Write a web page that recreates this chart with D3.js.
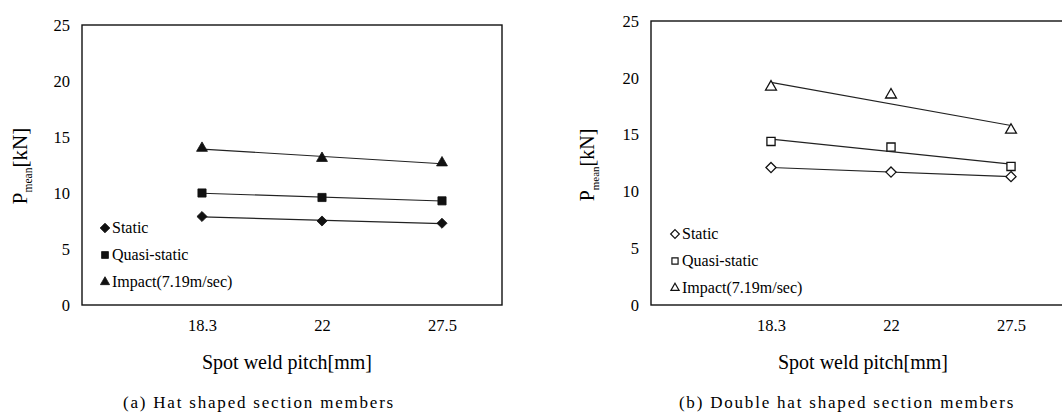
<!DOCTYPE html>
<html>
<head>
<meta charset="utf-8">
<script src="https://cdn.jsdelivr.net/npm/d3@7"></script>
<style>
  body { margin: 0; background: #fff; }
  text { font-family: "Liberation Serif", "DejaVu Serif", serif; fill: #000; }
  .tick line { display: none; }
  .domain { display: none; }
</style>
</head>
<body>
<div id="chart"></div>
<script>
// data
var pitches = ["18.3", "22", "27.5"];
var seriesNames = ["Static", "Quasi-static", "Impact(7.19m/sec)"];

// (a) hat shaped section
var hatStatic = [7.9, 7.5, 7.3];
var hatQuasi = [10.0, 9.6, 9.3];
var hatImpact = [14.0, 13.1, 12.7];

// (b) double hat shaped section
var dblStatic = [12.1, 11.7, 11.3];
var dblQuasi = [14.4, 13.9, 12.2];
var dblImpact = [19.2, 18.5, 15.4];

var yTicks = [0, 5, 10, 15, 20, 25];

var svg = d3.select("#chart").append("svg")
  .attr("width", 1062)
  .attr("height", 413);

// least squares trend line over category index 1..n (like the spreadsheet trendline)
function trend(vals) {
  var xs = vals.map((d, i) => i + 1);
  var mx = d3.mean(xs), my = d3.mean(vals);
  var sxy = d3.sum(xs, (x, i) => (x - mx) * (vals[i] - my));
  var sxx = d3.sum(xs, x => (x - mx) * (x - mx));
  var b = sxy / sxx, a = my - b * mx;
  return [[1, a + b], [xs.length, a + b * xs.length]];
}

function drawPanel(opt) {
  var x = d3.scaleLinear().domain([0, 3.5]).range([opt.left, opt.left + 420]);
  var y = d3.scaleLinear().domain([0, 25]).range([305, opt.top]);

  var g = svg.append("g");

  // frame
  g.append("rect")
    .attr("x", opt.left)
    .attr("y", opt.top)
    .attr("width", 420)
    .attr("height", 305 - opt.top)
    .attr("fill", "none")
    .attr("stroke", "#111")
    .attr("stroke-width", 1.4);

  // axes (labels only)
  g.append("g")
    .attr("transform", `translate(${opt.left - 2},0)`)
    .call(d3.axisLeft(y).tickValues(yTicks).tickSize(0).tickPadding(10))
    .selectAll("text")
    .style("font-size", "16.5px")
    .style("font-family", "Liberation Serif, serif");

  g.append("g")
    .attr("transform", `translate(0,316)`)
    .call(d3.axisBottom(x).tickValues([1, 2, 3]).tickFormat(d => pitches[d - 1]).tickSize(0))
    .selectAll("text")
    .style("font-size", "16.5px")
    .style("font-family", "Liberation Serif, serif");

  var line = d3.line().x(d => x(d[0])).y(d => y(d[1]));
  var sym = [d3.symbolDiamond2, d3.symbolSquare2, d3.symbolTriangle2];
  var sizes = [65, 85, 85];

  opt.series.forEach(function(vals, k) {
    g.append("path")
      .attr("d", line(trend(vals)))
      .attr("fill", "none")
      .attr("stroke", "#222")
      .attr("stroke-width", 1.1);

    g.selectAll(".m" + k)
      .data(vals)
      .enter()
      .append("path")
      .attr("transform", (d, i) => `translate(${x(i + 1)},${y(d)})`)
      .attr("d", d3.symbol().type(sym[k]).size(sizes[k]))
      .attr("fill", opt.filled ? "#111" : "#fff")
      .attr("stroke", "#111")
      .attr("stroke-width", opt.filled ? 0.8 : 1.3);
  });

  // legend
  var leg = g.append("g");
  seriesNames.forEach(function(name, k) {
    var ly = opt.legY + k * 27;
    leg.append("path")
      .attr("transform", `translate(${opt.legX},${ly})`)
      .attr("d", d3.symbol().type(sym[k]).size(opt.filled ? 60 : 48))
      .attr("fill", opt.filled ? "#111" : "#fff")
      .attr("stroke", "#111")
      .attr("stroke-width", opt.filled ? 0.8 : 1.2);
    leg.append("text")
      .attr("x", opt.legX + 7)
      .attr("y", ly + 5)
      .style("font-size", "16px")
      .text(name);
  });

  // y label
  var yl = g.append("text")
    .attr("transform", `translate(${opt.yLabX},${opt.yLabY}) rotate(-90)`)
    .attr("text-anchor", "middle")
    .style("font-size", opt.yLabSize + "px");
  yl.append("tspan").text("P");
  yl.append("tspan").attr("dy", 5).style("font-size", (opt.yLabSize * 0.55) + "px").text("mean");
  yl.append("tspan").attr("dy", -5).text("[kN]");

  // x label
  g.append("text")
    .attr("x", opt.xLabX)
    .attr("y", 369)
    .attr("text-anchor", "middle")
    .style("font-size", "20px")
    .text("Spot weld pitch[mm]");

  // caption
  g.append("text")
    .attr("x", opt.capX)
    .attr("y", 408)
    .attr("text-anchor", "middle")
    .style("font-size", "17px")
    .style("letter-spacing", "1.8px")
    .text(opt.caption);
}

drawPanel({
  left: 82, top: 25, filled: true,
  series: [hatStatic, hatQuasi, hatImpact],
  legX: 105, legY: 228,
  yLabX: 27, yLabY: 166, yLabSize: 21,
  xLabX: 287, capX: 259,
  caption: "(a)  Hat shaped section members"
});

drawPanel({
  left: 651, top: 21, filled: false,
  series: [dblStatic, dblQuasi, dblImpact],
  legX: 675, legY: 234,
  yLabX: 594, yLabY: 165, yLabSize: 20,
  xLabX: 863, capX: 847,
  caption: "(b)  Double hat shaped section members"
});
</script>
</body>
</html>
